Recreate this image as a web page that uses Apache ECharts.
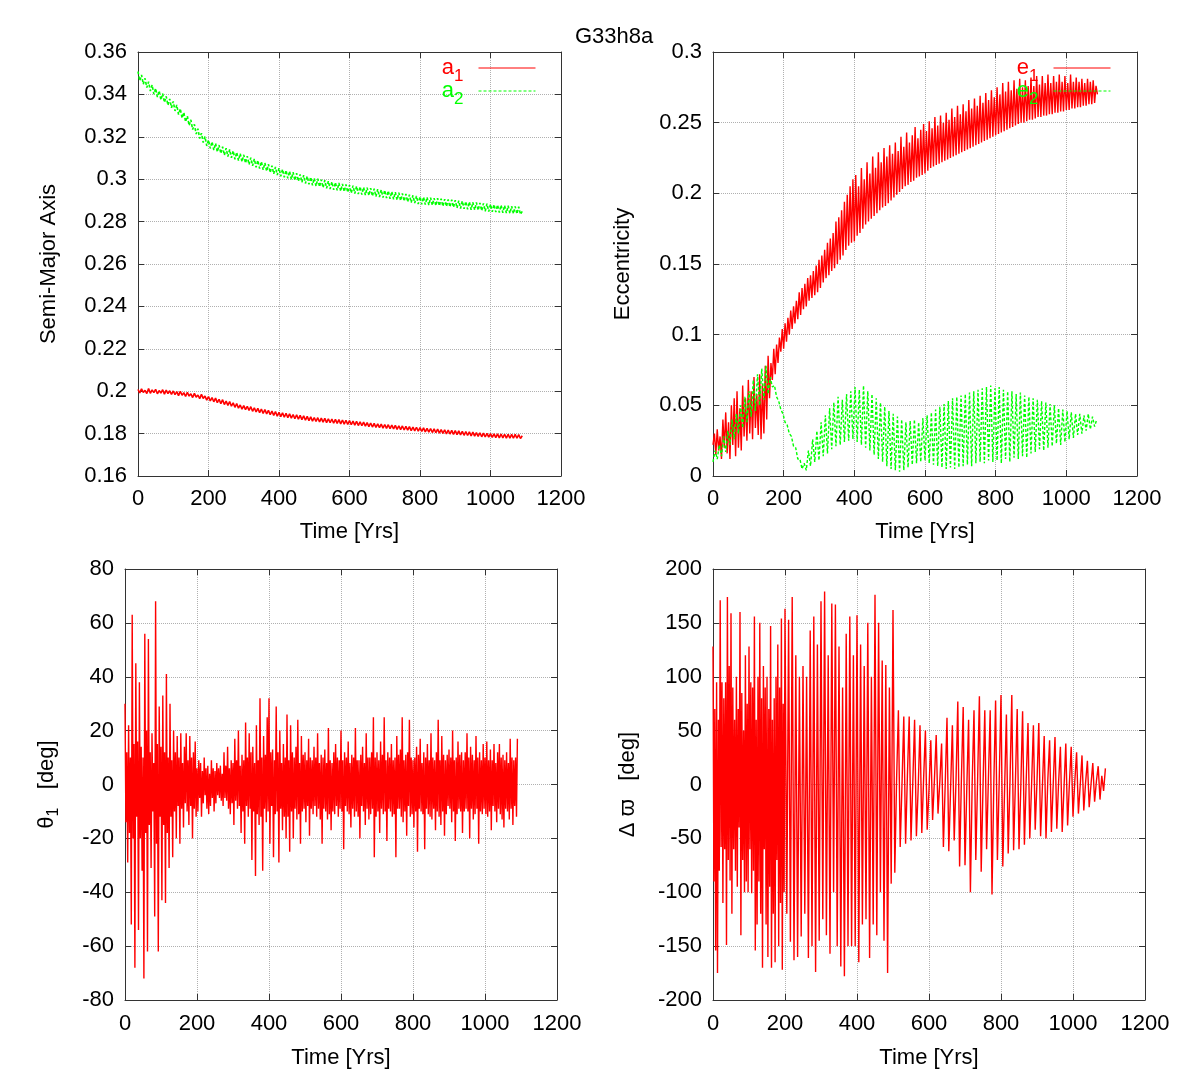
<!DOCTYPE html>
<html>
<head>
<meta charset="utf-8">
<title>G33h8a</title>
<script src="https://cdn.jsdelivr.net/npm/echarts@6/dist/echarts.min.js"></script>
<style>
  html, body { margin: 0; padding: 0; background: #fff; }
  #chart { width: 1195px; height: 1085px; }
</style>
</head>
<body>
<div id="chart"></div>
<script>
// semi-major axes, one value every 5 yrs starting at 0
const aStep = 5;
const a1 = [
  0.2008,0.1992,0.2011,0.1994,0.2004,0.1989,0.2013,0.1990,0.2006,0.1993,0.2009,0.1988,0.2003,0.1991,0.2007,0.1986,0.2005,0.1989,0.2002,0.1985,
  0.2001,0.1984,0.1998,0.1979,0.2000,0.1981,0.1993,0.1975,0.1995,0.1977,0.1988,0.1970,0.1990,0.1972,0.1982,0.1965,0.1985,0.1966,0.1977,0.1958,
  0.1975,0.1954,0.1970,0.1950,0.1968,0.1946,0.1962,0.1941,0.1960,0.1937,0.1953,0.1933,0.1951,0.1929,0.1945,0.1924,0.1942,0.1920,0.1935,0.1915,
  0.1932,0.1913,0.1929,0.1909,0.1927,0.1905,0.1922,0.1902,0.1919,0.1899,0.1916,0.1895,0.1913,0.1893,0.1910,0.1889,0.1906,0.1886,0.1904,0.1882,
  0.1900,0.1880,0.1898,0.1877,0.1896,0.1875,0.1893,0.1873,0.1890,0.1870,0.1889,0.1868,0.1886,0.1866,0.1884,0.1863,0.1881,0.1861,0.1879,0.1859,
  0.1876,0.1857,0.1875,0.1855,0.1873,0.1854,0.1872,0.1852,0.1870,0.1851,0.1869,0.1849,0.1867,0.1848,0.1866,0.1846,0.1864,0.1845,0.1863,0.1843,
  0.1861,0.1842,0.1859,0.1840,0.1858,0.1838,0.1856,0.1837,0.1854,0.1835,0.1852,0.1833,0.1850,0.1831,0.1848,0.1829,0.1846,0.1828,0.1845,0.1826,
  0.1843,0.1825,0.1842,0.1823,0.1840,0.1822,0.1839,0.1820,0.1837,0.1819,0.1836,0.1817,0.1834,0.1816,0.1833,0.1814,0.1831,0.1813,0.1830,0.1811,
  0.1828,0.1810,0.1827,0.1808,0.1825,0.1807,0.1824,0.1805,0.1822,0.1804,0.1821,0.1802,0.1819,0.1801,0.1818,0.1799,0.1816,0.1798,0.1815,0.1796,
  0.1814,0.1795,0.1813,0.1794,0.1811,0.1792,0.1810,0.1791,0.1808,0.1789,0.1807,0.1788,0.1805,0.1787,0.1804,0.1785,0.1802,0.1784,0.1801,0.1783,
  0.1800,0.1782,0.1799,0.1781,0.1799,0.1780,0.1798,0.1780,0.1797,0.1779,0.1797,0.1779,0.1796,0.1778,0.1796,0.1778,0.1795,0.1777,0.1790
];
const a2 = [
  0.3508,0.3464,0.3492,0.3448,0.3476,0.3432,0.3460,0.3416,0.3445,0.3401,0.3429,0.3387,0.3417,0.3374,0.3404,0.3362,0.3391,0.3349,0.3379,0.3337,
  0.3367,0.3322,0.3350,0.3305,0.3333,0.3288,0.3315,0.3271,0.3298,0.3253,0.3280,0.3234,0.3259,0.3213,0.3238,0.3192,0.3217,0.3173,0.3201,0.3157,
  0.3185,0.3145,0.3177,0.3137,0.3169,0.3129,0.3161,0.3121,0.3153,0.3113,0.3146,0.3107,0.3140,0.3101,0.3134,0.3094,0.3127,0.3088,0.3121,0.3082,
  0.3115,0.3076,0.3109,0.3069,0.3102,0.3063,0.3096,0.3056,0.3089,0.3050,0.3083,0.3044,0.3077,0.3038,0.3071,0.3031,0.3064,0.3025,0.3058,0.3019,
  0.3052,0.3014,0.3047,0.3009,0.3042,0.3004,0.3038,0.2999,0.3033,0.2994,0.3028,0.2990,0.3023,0.2985,0.3019,0.2980,0.3014,0.2976,0.3010,0.2971,
  0.3005,0.2967,0.3002,0.2964,0.2998,0.2960,0.2995,0.2957,0.2991,0.2954,0.2988,0.2950,0.2985,0.2947,0.2982,0.2944,0.2978,0.2941,0.2975,0.2938,
  0.2972,0.2935,0.2970,0.2932,0.2967,0.2930,0.2965,0.2927,0.2962,0.2925,0.2960,0.2923,0.2958,0.2920,0.2955,0.2918,0.2953,0.2916,0.2950,0.2913,
  0.2948,0.2911,0.2945,0.2908,0.2942,0.2905,0.2939,0.2902,0.2936,0.2899,0.2933,0.2896,0.2930,0.2893,0.2927,0.2890,0.2924,0.2887,0.2921,0.2883,
  0.2918,0.2881,0.2916,0.2880,0.2915,0.2878,0.2913,0.2877,0.2911,0.2875,0.2910,0.2874,0.2908,0.2872,0.2906,0.2871,0.2904,0.2869,0.2903,0.2867,
  0.2901,0.2864,0.2899,0.2862,0.2897,0.2860,0.2895,0.2858,0.2893,0.2856,0.2891,0.2855,0.2890,0.2853,0.2888,0.2851,0.2886,0.2849,0.2884,0.2847,
  0.2882,0.2846,0.2881,0.2845,0.2879,0.2843,0.2878,0.2842,0.2876,0.2840,0.2875,0.2839,0.2873,0.2837,0.2872,0.2836,0.2870,0.2834,0.2848
];

// eccentricities: e1 every 4 yrs, e2 every 6 yrs
const e1Step = 4;
const e1 = [
  0.022,0.030,0.015,0.033,0.018,0.028,0.012,0.040,0.020,0.045,0.016,0.038,0.012,0.050,0.022,0.055,0.014,0.060,0.020,0.048,0.018,0.064,0.028,0.055,0.025,
  0.068,0.030,0.060,0.026,0.070,0.034,0.058,0.029,0.072,0.026,0.065,0.030,0.078,0.040,0.085,0.055,0.080,0.068,0.090,0.072,0.093,0.080,0.098,0.088,0.104,
  0.090,0.108,0.095,0.112,0.100,0.117,0.104,0.120,0.108,0.124,0.111,0.130,0.114,0.133,0.118,0.136,0.120,0.140,0.124,0.142,0.126,0.145,0.128,0.149,0.130,
  0.153,0.133,0.156,0.137,0.160,0.140,0.165,0.142,0.168,0.145,0.172,0.147,0.180,0.150,0.183,0.153,0.188,0.156,0.194,0.160,0.199,0.163,0.205,0.165,0.210,
  0.166,0.213,0.170,0.205,0.172,0.218,0.175,0.210,0.178,0.222,0.180,0.214,0.182,0.226,0.184,0.218,0.186,0.229,0.188,0.222,0.190,0.232,0.191,0.226,0.193,
  0.234,0.195,0.228,0.197,0.236,0.199,0.230,0.201,0.240,0.203,0.233,0.205,0.243,0.206,0.236,0.208,0.241,0.209,0.247,0.211,0.239,0.212,0.245,0.213,0.249,
  0.214,0.244,0.216,0.251,0.218,0.246,0.219,0.254,0.220,0.248,0.221,0.255,0.222,0.250,0.223,0.257,0.224,0.252,0.225,0.260,0.226,0.254,0.227,0.262,0.228,
  0.256,0.229,0.263,0.230,0.258,0.231,0.266,0.232,0.260,0.233,0.267,0.234,0.262,0.235,0.269,0.236,0.264,0.237,0.271,0.238,0.266,0.239,0.273,0.240,0.268,
  0.241,0.275,0.242,0.270,0.243,0.278,0.244,0.272,0.245,0.279,0.246,0.273,0.247,0.280,0.248,0.274,0.249,0.281,0.250,0.275,0.250,0.280,0.251,0.276,0.252,
  0.282,0.252,0.276,0.253,0.283,0.254,0.277,0.254,0.283,0.255,0.278,0.255,0.284,0.256,0.278,0.256,0.283,0.257,0.279,0.257,0.284,0.258,0.279,0.258,0.283,
  0.259,0.278,0.259,0.284,0.260,0.279,0.260,0.282,0.261,0.279,0.261,0.281,0.262,0.278,0.262,0.281,0.263,0.279,0.263,0.280,0.264,0.276,0.270
];
const e2Step = 6;
const e2 = [
  0.010,0.018,0.012,0.022,0.014,0.028,0.017,0.032,0.022,0.040,
  0.026,0.044,0.030,0.050,0.034,0.056,0.038,0.060,0.042,0.068,
  0.046,0.072,0.050,0.076,0.054,0.078,0.058,0.070,0.063,0.064,
  0.056,0.053,0.047,0.044,0.038,0.036,0.030,0.028,0.021,0.020,
  0.012,0.012,0.005,0.009,0.004,0.018,0.007,0.026,0.010,0.032,
  0.011,0.038,0.014,0.043,0.016,0.048,0.019,0.052,0.021,0.056,
  0.022,0.054,0.024,0.058,0.025,0.060,0.026,0.063,0.024,0.061,
  0.022,0.064,0.020,0.060,0.018,0.058,0.015,0.055,0.012,0.052,
  0.010,0.049,0.007,0.046,0.005,0.044,0.004,0.042,0.003,0.040,
  0.004,0.038,0.006,0.039,0.008,0.040,0.009,0.038,0.010,0.041,
  0.011,0.043,0.009,0.045,0.008,0.047,0.007,0.049,0.006,0.051,
  0.005,0.053,0.006,0.055,0.005,0.056,0.006,0.057,0.007,0.058,
  0.008,0.059,0.007,0.060,0.009,0.061,0.010,0.062,0.009,0.063,
  0.011,0.064,0.010,0.062,0.011,0.063,0.009,0.061,0.012,0.060,
  0.010,0.060,0.013,0.058,0.012,0.059,0.014,0.057,0.013,0.056,
  0.016,0.055,0.017,0.054,0.019,0.053,0.018,0.052,0.020,0.051,
  0.021,0.050,0.023,0.048,0.022,0.047,0.024,0.046,0.026,0.045,
  0.027,0.044,0.029,0.044,0.030,0.043,0.032,0.044,0.033,0.042,
  0.035,0.040
];

// resonant angle theta1 [deg], every 2.5 yrs
const thetaStep = 2.5;
const theta1 = [
  30,-14,12,-29,22,-18,10,-52,63,-20,15,-68,45,-12,16,-54,38,-20,14,-32,
  10,-72,56,-18,20,-62,54,-15,12,-31,19,-10,8,-49,68,-22,15,-62,29,-12,
  14,-43,33,-15,12,-44,41,-18,10,-31,30,-12,9,-27,20,-10,12,-20,18,-8,
  10,-22,19,-9,8,-16,14,-7,19,-10,9,-15,18,-8,10,-20,12,-9,16,-12,
  6,-10,9,-5,8,-12,5,-7,10,-4,6,-9,7,-11,4,-8,9,-5,6,-10,
  5,-7,8,-4,6,-5,7,-6,4,-8,12,-5,7,-6,14,-9,6,-11,9,-7,
  8,-15,17,-6,9,-9,20,-8,7,-18,11,-10,9,-22,23,-8,10,-12,19,-9,
  12,-28,14,-10,8,-34,22,-11,9,-15,32,-12,10,-32,18,-9,11,-14,25,-10,
  32,-22,12,-8,13,-27,9,-11,29,-10,12,-29,20,-9,8,-17,15,-12,10,-20,
  26,-12,9,-25,22,-10,12,-20,10,-9,14,-13,24,-11,8,-22,18,-10,11,-9,
  12,-14,9,-8,17,-19,10,-9,9,-11,14,-8,10,-12,19,-9,8,-13,11,-22,
  10,-9,13,-10,8,-13,21,-11,9,-17,8,-10,12,-11,15,-8,10,-12,9,-9,
  20,-10,9,-24,12,-8,10,-10,16,-11,8,-16,11,-9,10,-12,21,-10,9,-12,
  9,-20,11,-8,14,-10,8,-15,19,-9,10,-13,10,-11,12,-9,25,-27,10,-12,
  12,-10,9,-18,16,-9,11,-11,25,-10,9,-21,12,-9,10,-10,15,-12,9,-11,
  10,-27,18,-9,11,-9,13,-12,25,-14,9,-10,11,-19,12,-8,24,-12,10,-11,
  9,-16,10,-10,14,-25,11,-9,17,-10,8,-11,12,-24,10,-9,15,-11,9,-12,
  19,-13,10,-9,9,-17,12,-10,24,-12,9,-15,18,-10,11,-19,9,-11,11,-8,
  13,-9,10,-14,20,-10,9,-21,10,-11,16,-9,11,-10,12,-18,9,-10,12,-9,
  19,-10,10,-20,14,-9,11,-13,9,-11,18,-9,10,-22,12,-10,9,-11,15,-9,
  10,-11,16,-12,9,-10,13,-17,9,-8,15,-10,8,-14,12,-9,15,-11,10,-13,
  11,-16,9,-9,12,-10,8,-13,17,-9,10,-15,9,-8,10,-12,17
];

// delta varpi [deg]: every 2.5 yrs up to 197.5, then every 5 yrs from 200
const dvEarlyStep = 2.5;
const dVarpiEarly = [
  128,-90,70,-154,95,-175,60,-80,171,-58,95,-110,80,-60,95,-149,174,-70,110,-89,
  159,-120,90,-60,60,-80,100,-95,70,-40,160,-140,85,-70,50,-100,120,-90,75,-100,
  128,-60,95,-101,90,-80,156,-154,60,-130,100,-90,150,-120,80,-170,110,-60,90,-130,
  100,-160,70,-95,147,-170,60,-120,80,-165,100,-70,130,-150,90,-110,154,-172,75,-100
];
const dvLateStart = 200;
const dvLateStep = 5;
const dVarpiLate = [
  163,-120,153,-146,174,-163,120,-160,100,-141,
  110,-120,100,-161,143,-150,156,-174,130,-145,
  170,-125,179,-140,120,-157,168,-100,167,-150,
  128,-169,90,-178,140,-150,156,-150,120,-150,
  157,-165,130,-130,110,-125,150,-161,100,-130,
  176,-140,150,-100,115,-145,111,-175,90,-92,
  162,-82,5,69,-58,0,63,-55,8,63,
  -52,2,60,-48,-3,55,-45,5,50,-42,
  -5,41,-33,4,46,-27,2,38,-58,0,
  62,-62,-4,55,-52,3,77,-76,5,72,
  -75,-3,60,-100,2,69,-70,4,82,-81,
  -2,69,-60,5,69,-102,0,78,-70,3,
  83,-76,-4,65,-64,3,83,-61,2,70,
  -60,-3,68,-56,4,57,-50,0,55,-42,
  3,57,-48,-2,45,-50,4,41,-44,0,
  44,-41,2,35,-44,-3,38,-38,1,35,
  -30,3,30,-27,-1,27,-24,2,22,-21,
  0,20,-16,3,17,-14,8,-6,15
];

const xTicks = [0, 1200, 200];
const yTicks = [[0.16, 0.36, 0.02], [0, 0.3, 0.05], [-80, 80, 20], [-200, 200, 50]];

const FONT = '"Liberation Sans", Arial, "DejaVu Sans", sans-serif';
const RED = '#ff0000';
const GREEN = '#00ff00';
const FRAME = '#333';

const chart = echarts.init(document.getElementById('chart'));

const grids = [
  { left: 138, top: 52, width: 423, height: 424 },
  { left: 713, top: 52, width: 424, height: 424 },
  { left: 125, top: 569, width: 432, height: 431 },
  { left: 713, top: 569, width: 432, height: 431 }
];
const yNames = [
  'Semi-Major Axis',
  'Eccentricity',
  '{m|\u03b8}{s|1}{m|   [deg]}',
  '{m|\u0394 \u03d6   [deg]}'
];
const yGaps = [78, 79, 63, 70];
const xGaps = [45, 45, 47, 47];
const xMargins = [12, 12, 13, 13];

const pairs = (vals, dt, t0 = 0) => vals.map((v, i) => [t0 + i * dt, v]);

const xAxes = [];
const yAxes = [];
grids.forEach((g, gi) => {
  [false, true].forEach(mirror => {
    xAxes.push({
      gridIndex: gi, type: 'value', min: xTicks[0], max: xTicks[1], interval: xTicks[2],
      position: mirror ? 'top' : 'bottom',
      axisLine: { show: true, onZero: false, lineStyle: { color: FRAME, width: 1 } },
      axisTick: { show: true, inside: true, length: 6, lineStyle: { color: FRAME } },
      axisLabel: {
        show: !mirror, color: '#000', fontSize: 22, fontFamily: FONT, margin: xMargins[gi],
        formatter: v => String(v)
      },
      splitLine: { show: !mirror, lineStyle: { color: '#b0b0b0', type: 'dotted', width: 1 } },
      name: mirror ? '' : 'Time [Yrs]',
      nameLocation: 'middle', nameGap: xGaps[gi],
      nameTextStyle: { color: '#000', fontSize: 22, fontFamily: FONT }
    });
    yAxes.push({
      gridIndex: gi, type: 'value', min: yTicks[gi][0], max: yTicks[gi][1], interval: yTicks[gi][2],
      position: mirror ? 'right' : 'left',
      axisLine: { show: true, onZero: false, lineStyle: { color: FRAME, width: 1 } },
      axisTick: { show: true, inside: true, length: 6, lineStyle: { color: FRAME } },
      axisLabel: { show: !mirror, color: '#000', fontSize: 22, fontFamily: FONT, margin: 11 },
      splitLine: { show: !mirror, lineStyle: { color: '#b0b0b0', type: 'dotted', width: 1 } },
      name: mirror ? '' : yNames[gi],
      nameLocation: 'middle', nameGap: yGaps[gi],
      nameTextStyle: {
        color: '#000', fontSize: 22, fontFamily: FONT,
        rich: {
          m: { fontSize: 22, fontFamily: FONT, color: '#000', lineHeight: 30 },
          s: { fontSize: 16, fontFamily: FONT, color: '#000', lineHeight: 30, verticalAlign: 'bottom' }
        }
      }
    });
  });
});

function line(name, data, gi, color, width, dotted) {
  return {
    name: name, type: 'line', xAxisIndex: gi * 2, yAxisIndex: gi * 2,
    data: data,
    showSymbol: false, symbol: 'none', silent: true,
    lineStyle: { color: color, width: width, type: dotted ? [3, 2] : 'solid' },
    itemStyle: { color: color }
  };
}

const legendRich = {
  r: { color: RED, fontSize: 22, fontFamily: FONT, lineHeight: 34 },
  rs: { color: RED, fontSize: 17, fontFamily: FONT, lineHeight: 34, verticalAlign: 'bottom', padding: [0, 10, 0, 0] },
  g: { color: GREEN, fontSize: 22, fontFamily: FONT, lineHeight: 34 },
  gs: { color: GREEN, fontSize: 17, fontFamily: FONT, lineHeight: 34, verticalAlign: 'bottom', padding: [0, 10, 0, 0] }
};
function legendAt(names, right) {
  return {
    data: names, orient: 'vertical', right: right, top: 57, padding: 0,
    align: 'right', itemWidth: 57, itemHeight: 14, itemGap: -5,
    selectedMode: false,
    itemStyle: { opacity: 0 },
    lineStyle: { width: 1 },
    formatter: n => n === names[0] ? `{r|${n[0]}}{rs|${n[1]}}` : `{g|${n[0]}}{gs|${n[1]}}`,
    textStyle: { rich: legendRich }
  };
}

chart.setOption({
  animation: false,
  backgroundColor: '#fff',
  title: {
    text: 'G33h8a', left: 570, top: 21,
    textStyle: { color: '#000', fontSize: 22, fontWeight: 'normal', fontFamily: FONT }
  },
  legend: [legendAt(['a1', 'a2'], 1195 - 536), legendAt(['e1', 'e2'], 1195 - 1111)],
  grid: grids,
  xAxis: xAxes,
  yAxis: yAxes,
  series: [
    line('a1', pairs(a1, aStep), 0, RED, 1.6, false),
    line('a2', pairs(a2, aStep), 0, GREEN, 1.6, true),
    line('e1', pairs(e1, e1Step), 1, RED, 1.4, false),
    line('e2', pairs(e2, e2Step), 1, GREEN, 1.4, true),
    line('theta1', pairs(theta1, thetaStep), 2, RED, 1.4, false),
    line('dvarpi', pairs(dVarpiEarly, dvEarlyStep).concat(pairs(dVarpiLate, dvLateStep, dvLateStart)), 3, RED, 1.4, false)
  ]
});
</script>
</body>
</html>
